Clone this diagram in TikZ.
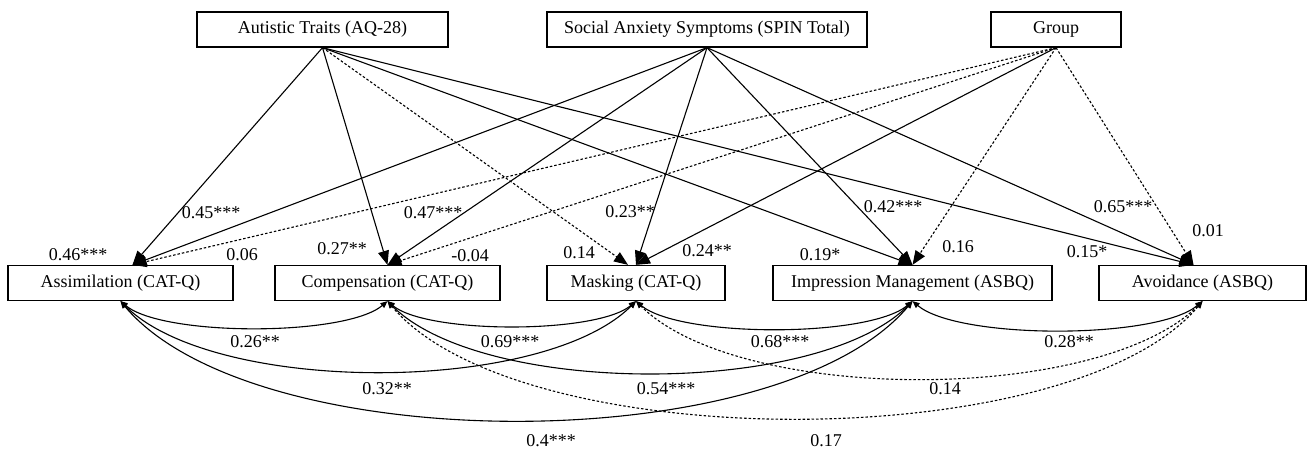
\documentclass[tikz,border=0pt]{standalone}
\usepackage{fontspec}
\setmainfont{Liberation Serif}
\usetikzlibrary{arrows.meta}

\tikzset{
  var/.style={draw, line width=1.3pt, minimum height=35pt, inner sep=0pt, font=\fontsize{18}{21}\selectfont},
  lbl/.style={inner sep=0pt, font=\fontsize{18}{21}\selectfont},
  reg/.style={line width=1.1pt, -{Triangle[length=14pt,width=11pt]}},
  cov/.style={line width=1.1pt, {Triangle[length=7pt,width=6pt]}-{Triangle[length=7pt,width=6pt]}},
  ns/.style={dash pattern=on 2.5pt off 2pt},
}

\begin{document}
\begin{tikzpicture}[x=1pt, y=-1pt]
  \useasboundingbox (0,0) rectangle (1313,451);
  % Predictors (top row)
  \node[var, minimum width=251pt] (aq) at (322.5,29.5) {Autistic Traits (AQ-28)};
  \node[var, minimum width=320pt] (spin) at (707,29.5) {Social Anxiety Symptoms (SPIN Total)};
  \node[var, minimum width=130pt] (grp) at (1056,29.5) {Group};
  % Outcomes (bottom row)
  \node[var, minimum width=225pt] (asm) at (120.5,283) {Assimilation (CAT-Q)};
  \node[var, minimum width=225pt] (cmp) at (387.5,283) {Compensation (CAT-Q)};
  \node[var, minimum width=178pt] (msk) at (636,283) {Masking (CAT-Q)};
  \node[var, minimum width=279pt] (imp) at (912.5,283) {Impression Management (ASBQ)};
  \node[var, minimum width=207pt] (avd) at (1202.5,283) {Avoidance (ASBQ)};
  \coordinate (asm-in) at ([xshift=12pt]asm.north);
  \coordinate (avd-in) at ([xshift=-9pt]avd.north);
  % Paths from autistic traits
  \draw[reg] (aq.south) -- (asm-in);
  \draw[reg] (aq.south) -- (cmp.north);
  \draw[reg, ns] (aq.south) -- ([xshift=-8pt]msk.north);
  \draw[reg] (aq.south) -- (imp.north);
  \draw[reg] (aq.south) -- (avd-in);
  % Paths from social anxiety
  \draw[reg] (spin.south) -- (asm-in);
  \draw[reg] (spin.south) -- (cmp.north);
  \draw[reg] (spin.south) -- (msk.north);
  \draw[reg] (spin.south) -- (imp.north);
  \draw[reg] (spin.south) -- (avd-in);
  % Paths from group
  \draw[reg, ns] (grp.south) -- (asm-in);
  \draw[reg, ns] (grp.south) -- (cmp.north);
  \draw[reg] (grp.south) -- (msk.north);
  \draw[reg, ns] (grp.south) -- (imp.north);
  \draw[reg, ns] (grp.south) -- (avd-in);
  % Path coefficients
  \node[lbl] (b-aq-asm) at (211,213) {0.45***};
  \node[lbl] (b-spin-asm) at (78,255) {0.46***};
  \node[lbl] (b-grp-asm) at (242,255) {0.06};
  \node[lbl] (b-aq-cmp) at (342,249) {0.27**};
  \node[lbl] (b-spin-cmp) at (433,213) {0.47***};
  \node[lbl] (b-grp-cmp) at (470,256) {-0.04};
  \node[lbl] (b-aq-msk) at (579,253) {0.14};
  \node[lbl] (b-spin-msk) at (630,212) {0.23**};
  \node[lbl] (b-grp-msk) at (707,251) {0.24**};
  \node[lbl] (b-aq-imp) at (820,255) {0.19*};
  \node[lbl] (b-spin-imp) at (893,207) {0.42***};
  \node[lbl] (b-grp-imp) at (958,247) {0.16};
  \node[lbl] (b-aq-avd) at (1087,252) {0.15*};
  \node[lbl] (b-spin-avd) at (1123,207) {0.65***};
  \node[lbl] (b-grp-avd) at (1208,231) {0.01};
  % Residual covariances between neighbours
  \draw[cov] (asm.south) to[out=-40, in=-140, looseness=0.53] (cmp.south);
  \draw[cov] (cmp.south) to[out=-40, in=-140, looseness=0.53] (msk.south);
  \draw[cov] (msk.south) to[out=-40, in=-140, looseness=0.53] (imp.south);
  \draw[cov] (imp.south) to[out=-40, in=-140, looseness=0.53] (avd.south);
  % Covariances two apart
  \draw[cov] (asm.south) to[out=-45, in=-135, looseness=0.66] (msk.south);
  \draw[cov] (cmp.south) to[out=-45, in=-135, looseness=0.66] (imp.south);
  \draw[cov, ns] (msk.south) to[out=-45, in=-135, looseness=0.66] (avd.south);
  % Covariances three apart
  \draw[cov] (asm.south) to[out=-50, in=-130, looseness=0.67] (imp.south);
  \draw[cov, ns] (cmp.south) to[out=-50, in=-130, looseness=0.64] (avd.south);
  % Covariance estimates
  \node[lbl] (r-asm-cmp) at (255,342) {0.26**};
  \node[lbl] (r-cmp-msk) at (510,342) {0.69***};
  \node[lbl] (r-msk-imp) at (780,342) {0.68***};
  \node[lbl] (r-imp-avd) at (1069,342) {0.28**};
  \node[lbl] (r-asm-msk) at (387,389) {0.32**};
  \node[lbl] (r-cmp-imp) at (666,389) {0.54***};
  \node[lbl] (r-msk-avd) at (945,389) {0.14};
  \node[lbl] (r-asm-imp) at (551,441) {0.4***};
  \node[lbl] (r-cmp-avd) at (826,441) {0.17};
\end{tikzpicture}
\end{document}
